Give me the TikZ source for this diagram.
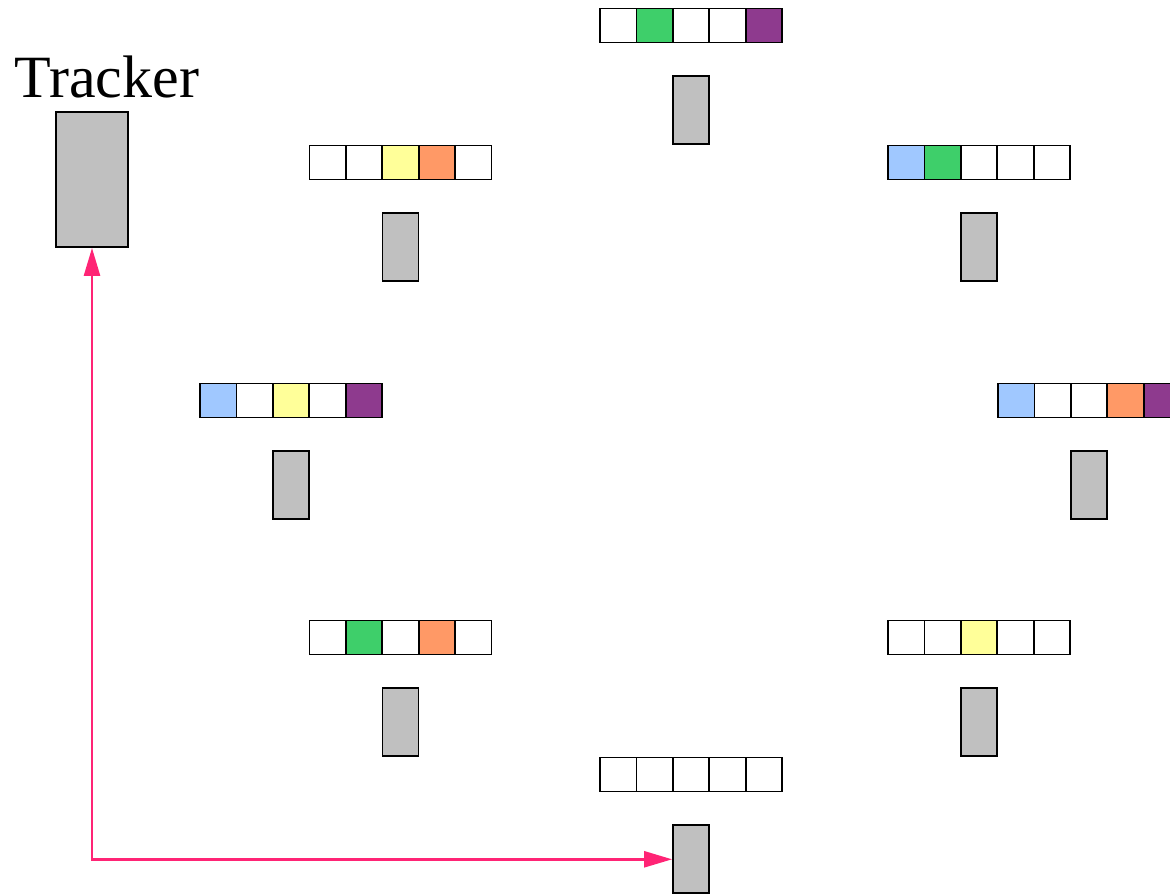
\documentclass[tikz,border=0pt]{standalone}
\usepackage{fontspec}
\setmainfont{Liberation Serif}
\usepackage{tikz}
\usepackage{xcolor}
\usetikzlibrary{arrows.meta, positioning}
\definecolor{slot}{HTML}{C0C0C0}
\definecolor{keyG}{HTML}{3ECF6A}
\definecolor{keyP}{HTML}{8E3A8E}
\definecolor{keyB}{HTML}{A0C8FF}
\definecolor{keyY}{HTML}{FFFF99}
\definecolor{keyO}{HTML}{FF9966}
\definecolor{link}{HTML}{FF2475}
\tikzset{
  cell/.style={
    draw=black, fill=#1, line width=1.8pt,
    minimum width=36.4pt, minimum height=34pt, inner sep=0pt
  },
  cell/.default=white,
  bar/.style={
    draw=black, fill=slot, line width=1.8pt,
    minimum width=36pt, minimum height=68pt, inner sep=0pt
  },
  larrow/.style={{Triangle[length=28pt, width=16pt]}-{Triangle[length=28pt, width=16pt]}, line width=2.5pt, color=link}
}
% one peer: a row of five cells and its bar below
\newcommand{\peer}[4]{%
  \foreach \c [count=\i] in {#4}
    \node[cell=\c] (#1-\i) at ({#2+(\i-3)*36.4},#3) {};
  \node[bar, below=32pt of #1-3] (#1-bar) {};
}

\begin{document}
\begin{tikzpicture}[x=1pt, y=-1pt]
    \useasboundingbox (0,0) rectangle (1170,894);

    \node[bar, minimum width=72pt, minimum height=135pt] (tracker) at (92,179.5) {};
    \node[font=\fontsize{60}{62}\selectfont, anchor=base] (tracker-label) at (107,97) {Tracker};

    \peer{pN}{691}{25.5}{white,keyG,white,white,keyP}
    \peer{pNW}{400.5}{162.5}{white,white,keyY,keyO,white}
    \peer{pNE}{979}{162.5}{keyB,keyG,white,white,white}
    \peer{pW}{291}{400.5}{keyB,white,keyY,white,keyP}
    \peer{pE}{1089}{400.5}{keyB,white,white,keyO,keyP}
    \peer{pSW}{400.5}{637.5}{white,keyG,white,keyO,white}
    \peer{pSE}{979}{637.5}{white,white,keyY,white,white}
    \peer{pS}{691}{774.5}{white,white,white,white,white}

    \draw[larrow] (tracker.south) -- (tracker.south |- pS-bar.west) -- (pS-bar.west);
  \end{tikzpicture}
\end{document}
